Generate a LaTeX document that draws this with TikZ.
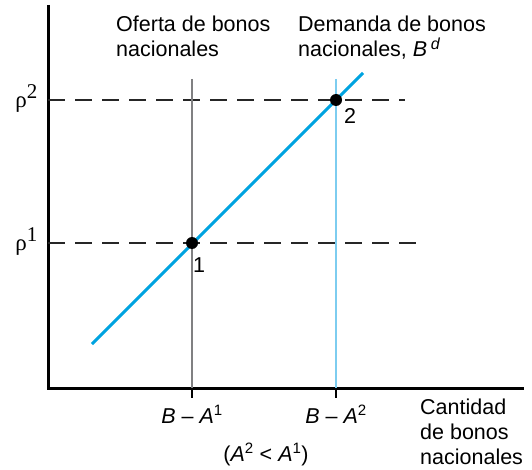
\documentclass[tikz,border=0pt]{standalone}
\usepackage{fontspec}
\setmainfont{Liberation Sans}
\newfontfamily\serifrho{Liberation Serif}
\definecolor{curveblue}{RGB}{0,163,224}
\definecolor{lightblue}{RGB}{125,205,240}
\definecolor{supplygray}{RGB}{128,128,130}
\begin{document}
\begin{tikzpicture}[x=1pt,y=-1pt,
  lbl/.style={font=\fontsize{21.5}{25}\selectfont, inner sep=0pt, align=left},
  axisline/.style={line width=3pt, black},
  guide/.style={line width=1.3pt, dash pattern=on 17pt off 10pt, black!85},
  dotnode/.style={circle, fill=black, inner sep=0pt, minimum size=12pt}]
\useasboundingbox (0,0) rectangle (532,470);
% axes
\coordinate (top) at (48,5);
\coordinate (orig) at (48,388);
\coordinate (xend) at (524,388);
\draw[axisline] (top) -- (orig) -- (xend);
% ticks
\coordinate (t1) at (192,388);
\coordinate (t1b) at (192,398);
\coordinate (t2) at (336,388);
\coordinate (t2b) at (336,398);
\draw[line width=1.3pt] (t1) -- (t1b);
\draw[line width=1.3pt] (t2) -- (t2b);
% dashed guides
\coordinate (g2a) at (48,100);
\coordinate (g2b) at (405,100);
\coordinate (g1a) at (48,243);
\coordinate (g1b) at (420,243);
\draw[guide] (g2a) -- (g2b);
\draw[guide] (g1a) -- (g1b);
% vertical supply lines
\coordinate (s1top) at (192,79);
\coordinate (s2top) at (336,79);
\draw[supplygray, line width=2.6pt] (s1top) -- (t1);
\draw[lightblue, line width=2.6pt] (s2top) -- (t2);
% demand curve
\coordinate (da) at (92,344);
\coordinate (db) at (363,73);
\draw[curveblue, line width=3pt] (da) -- (db);
% points
\node[dotnode] (p1) at (192,243) {};
\node[dotnode] (p2) at (336,100) {};
\node[lbl, anchor=base west] (n1) at (193,272) {1};
\node[lbl, anchor=base west] (n2) at (344,124) {2};
% y labels
\node[inner sep=0pt, anchor=base east, font=\serifrho\fontsize{23}{24}\selectfont] (r2) at (38,108) {ρ\textsuperscript{\fontsize{21}{21}\selectfont 2}};
\node[inner sep=0pt, anchor=base east, font=\serifrho\fontsize{23}{24}\selectfont] (r1) at (38,251) {ρ\textsuperscript{\fontsize{21}{21}\selectfont 1}};
% curve labels
\node[lbl, anchor=north west] (sup) at (116,16) {Oferta de bonos\\nacionales};
\node[lbl, anchor=north west] (dem) at (298,16) {Demanda de bonos\\nacionales, \textit{B}\,\raisebox{0.6ex}{\fontsize{16}{16}\selectfont\textit{d}}};
% x labels
\node[lbl, anchor=base] (x1) at (192,423) {\textit{B} -- \textit{A}\textsuperscript{1}};
\node[lbl, anchor=base] (x2) at (336,423) {\textit{B} -- \textit{A}\textsuperscript{2}};
\node[lbl, anchor=base] (cond) at (266,461) {(\textit{A}\textsuperscript{2} < \textit{A}\textsuperscript{1})};
\node[lbl, anchor=north west] (qty) at (420,399) {Cantidad\\de bonos\\nacionales};
\end{tikzpicture}
\end{document}
